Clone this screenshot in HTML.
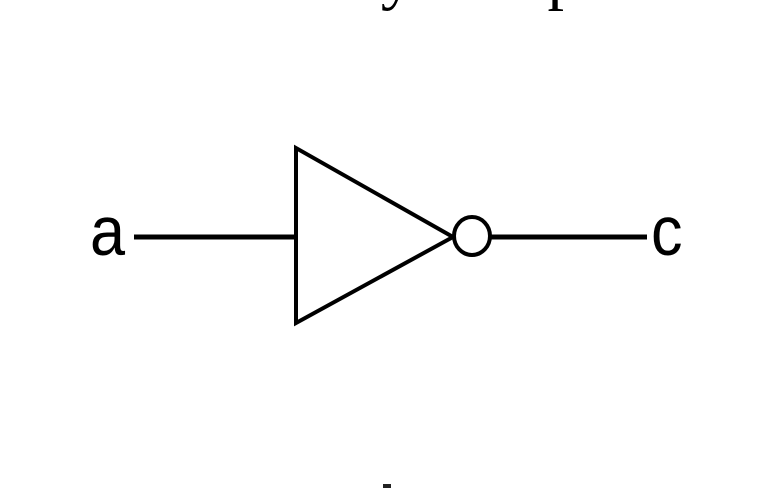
<!DOCTYPE html>
<html><head><meta charset="utf-8"><style>
html,body{margin:0;padding:0;background:#fff;width:770px;height:488px;overflow:hidden}
</style></head><body>
<svg width="770" height="488" viewBox="0 0 770 488" xmlns="http://www.w3.org/2000/svg">
<text x="390" y="-3" font-family="Liberation Serif, serif" font-size="66" text-anchor="middle" fill="#000" letter-spacing="4">ot co ve y e mple.</text>
<line x1="134" y1="237" x2="296" y2="237" stroke="#000" stroke-width="5"/>
<polygon points="296,148 296,323 453,237" fill="none" stroke="#000" stroke-width="4" stroke-linejoin="miter"/>
<ellipse cx="472" cy="236" rx="18" ry="19" fill="#fff" stroke="#000" stroke-width="4"/>
<line x1="490" y1="237" x2="647" y2="237" stroke="#000" stroke-width="5"/>
<text x="90" y="255" font-family="Liberation Sans, sans-serif" font-size="70" fill="#000" transform="translate(90 0) scale(0.9 1) translate(-90 0)">a</text>
<text x="651" y="255" font-family="Liberation Sans, sans-serif" font-size="70" fill="#000" transform="translate(651 0) scale(0.9 1) translate(-651 0)">c</text>
<rect x="383" y="484" width="8" height="4" fill="#222"/>
</svg>
</body></html>
